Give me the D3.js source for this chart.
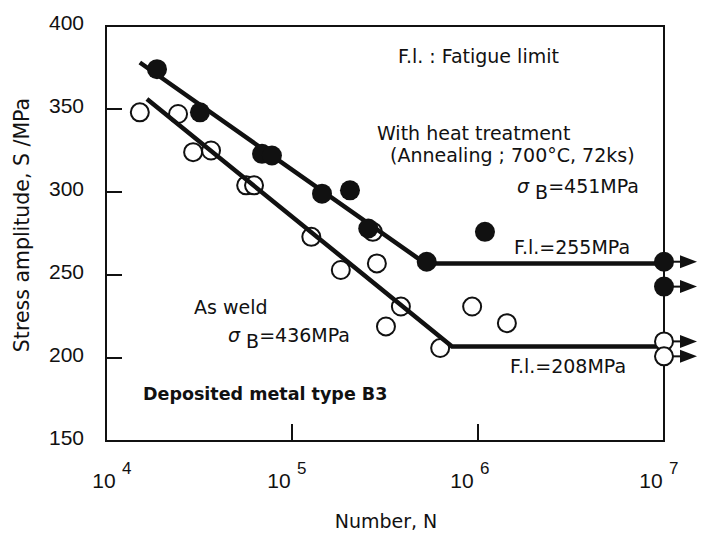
<!DOCTYPE html>
<html>
<head>
<meta charset="utf-8">
<script src="https://cdn.jsdelivr.net/npm/d3@7"></script>
<style>
  html, body { margin: 0; padding: 0; background: #fff; }
  svg { display: block; }
  text { font-family: "DejaVu Sans", sans-serif; fill: #111; }
  .tick-label { font-family: "Liberation Sans", Arial, sans-serif; }
</style>
</head>
<body>
<svg id="chart" width="707" height="533"></svg>
<script>
// ---------- data ----------
const yTicks = [150, 200, 250, 300, 350, 400];
const xTicks = [1e4, 1e5, 1e6, 1e7];
const xTickExp = ["4", "5", "6", "7"];

// With heat treatment (filled circles)
const heatN = [1.88e4, 3.2e4, 6.9e4, 7.8e4, 1.45e5, 2.05e5, 2.57e5, 5.3e5, 1.09e6];
const heatS = [374, 348, 323, 322, 299, 301, 278, 258, 276];
const heatRunN = [1e7, 1e7];
const heatRunS = [258, 243];

// As weld (open circles)
const weldN = [1.52e4, 2.44e4, 2.94e4, 3.67e4, 5.67e4, 6.25e4, 1.27e5, 1.83e5, 2.72e5, 2.86e5, 3.2e5, 3.85e5, 6.26e5, 9.3e5, 1.43e6];
const weldS = [348, 347, 324, 325, 304, 304, 273, 253, 276, 257, 219, 231, 206, 231, 221];
const weldRunN = [1e7, 1e7];
const weldRunS = [210, 201];

// S-N lines
const heatLineN = [1.52e4, 5.2e5, 1e7];
const heatLineS = [378, 257, 257];
const weldLineN = [1.66e4, 7.25e5, 1e7];
const weldLineS = [356, 207, 207];

// ---------- layout ----------
const svg = d3.select("#chart");
const L = 106, R = 664, T = 26, B = 441;
const x = d3.scaleLog().domain([1e4, 1e7]).range([L, R]);
const y = d3.scaleLinear().domain([150, 400]).range([B, T]);
const r = 9;
const xLabelShift = [11, 0, -3, 0]; // per-label nudge as in the original figure

// frame
svg.append("rect").attr("x", L).attr("y", T).attr("width", R - L).attr("height", B - T)
  .attr("fill", "none").attr("stroke", "#111").attr("stroke-width", 2);

// y ticks (inward)
svg.append("g").selectAll("line").data(yTicks.filter(d => d > 150 && d < 400)).join("line")
  .attr("x1", L).attr("x2", L + 16).attr("y1", d => y(d)).attr("y2", d => y(d))
  .attr("stroke", "#111").attr("stroke-width", 2);
svg.append("g").selectAll("text").data(yTicks).join("text")
  .attr("class", "tick-label")
  .attr("x", 84).attr("y", d => y(d) + 4)
  .attr("text-anchor", "end").attr("font-size", 21)
  .text(d => d);

// x ticks (inward)
svg.append("g").selectAll("line").data(xTicks.filter(d => d > 1e4 && d < 1e7)).join("line")
  .attr("x1", d => x(d)).attr("x2", d => x(d)).attr("y1", B).attr("y2", B - 17)
  .attr("stroke", "#111").attr("stroke-width", 2);
const xl = svg.append("g").selectAll("g").data(xTicks).join("g");
xl.append("text").attr("class", "tick-label")
  .attr("x", (d, i) => x(d) - 13 + xLabelShift[i]).attr("y", 488)
  .attr("text-anchor", "middle").attr("font-size", 21)
  .text("10");
xl.append("text").attr("class", "tick-label")
  .attr("x", (d, i) => x(d) + 5 + xLabelShift[i]).attr("y", 474)
  .attr("text-anchor", "start").attr("font-size", 17)
  .text((d, i) => xTickExp[i]);

// axis titles
svg.append("text").attr("x", 386).attr("y", 528).attr("text-anchor", "middle")
  .attr("font-size", 19).text("Number, N");
svg.append("text").attr("transform", "translate(29,225) rotate(-90)")
  .attr("text-anchor", "middle").attr("font-size", 20.5).text("Stress amplitude, S /MPa");

const weld = weldN.map((n, i) => ({ n, s: weldS[i] }));
const weldRun = weldRunN.map((n, i) => ({ n, s: weldRunS[i] }));
const heat = heatN.map((n, i) => ({ n, s: heatS[i] }));
const heatRun = heatRunN.map((n, i) => ({ n, s: heatRunS[i] }));

// arrows for run-outs
const arrows = svg.append("g");
[...heatRun, ...weldRun].forEach(d => {
  const cx = x(d.n), cy = y(d.s);
  arrows.append("line").attr("x1", cx).attr("x2", cx + 17).attr("y1", cy).attr("y2", cy)
    .attr("stroke", "#111").attr("stroke-width", 2);
  arrows.append("path")
    .attr("d", `M${cx + 16},${cy - 6.5}L${cx + 33},${cy}L${cx + 16},${cy + 6.5}Z`)
    .attr("fill", "#111");
});

// open circles (as weld)
svg.append("g").selectAll("circle").data(weld).join("circle")
  .attr("cx", d => x(d.n)).attr("cy", d => y(d.s)).attr("r", r)
  .attr("fill", "#fff").attr("stroke", "#111").attr("stroke-width", 2);

// S-N lines
const line = d3.line().x(d => x(d[0])).y(d => y(d[1]));
svg.append("path").datum(heatLineN.map((n, i) => [n, heatLineS[i]]))
  .attr("d", line).attr("fill", "none").attr("stroke", "#111").attr("stroke-width", 4.5);
svg.append("path").datum(weldLineN.map((n, i) => [n, weldLineS[i]]))
  .attr("d", line).attr("fill", "none").attr("stroke", "#111").attr("stroke-width", 4.5);

// run-out open circles on top
svg.append("g").selectAll("circle").data(weldRun).join("circle")
  .attr("cx", d => x(d.n)).attr("cy", d => y(d.s)).attr("r", r)
  .attr("fill", "#fff").attr("stroke", "#111").attr("stroke-width", 2);

// filled circles
svg.append("g").selectAll("circle").data([...heat, ...heatRun]).join("circle")
  .attr("cx", d => x(d.n)).attr("cy", d => y(d.s)).attr("r", r + 1)
  .attr("fill", "#111");

// annotations
const FS = 19;
function sigma(xp, yb, rest) {
  const t = svg.append("text").attr("x", xp).attr("y", yb).attr("font-size", FS);
  t.append("tspan").attr("font-style", "italic").text("σ ");
  t.append("tspan").attr("dy", 6).text("B");
  t.append("tspan").attr("dy", -6).text(rest);
}
svg.append("text").attr("x", 398).attr("y", 63).attr("font-size", FS).text("F.l. : Fatigue limit");
svg.append("text").attr("x", 377).attr("y", 140).attr("font-size", FS).text("With heat treatment");
svg.append("text").attr("x", 390).attr("y", 162).attr("font-size", FS).text("(Annealing ; 700°C, 72ks)");
sigma(517, 193, "=451MPa");
svg.append("text").attr("x", 514).attr("y", 254).attr("font-size", FS).text("F.l.=255MPa");
svg.append("text").attr("x", 194).attr("y", 314).attr("font-size", FS).text("As weld");
sigma(228, 342, "=436MPa");
svg.append("text").attr("x", 510).attr("y", 373).attr("font-size", FS).text("F.l.=208MPa");
svg.append("text").attr("x", 143).attr("y", 400).attr("font-size", 17.5).attr("font-weight", "bold")
  .text("Deposited metal type B3");
</script>
</body>
</html>
